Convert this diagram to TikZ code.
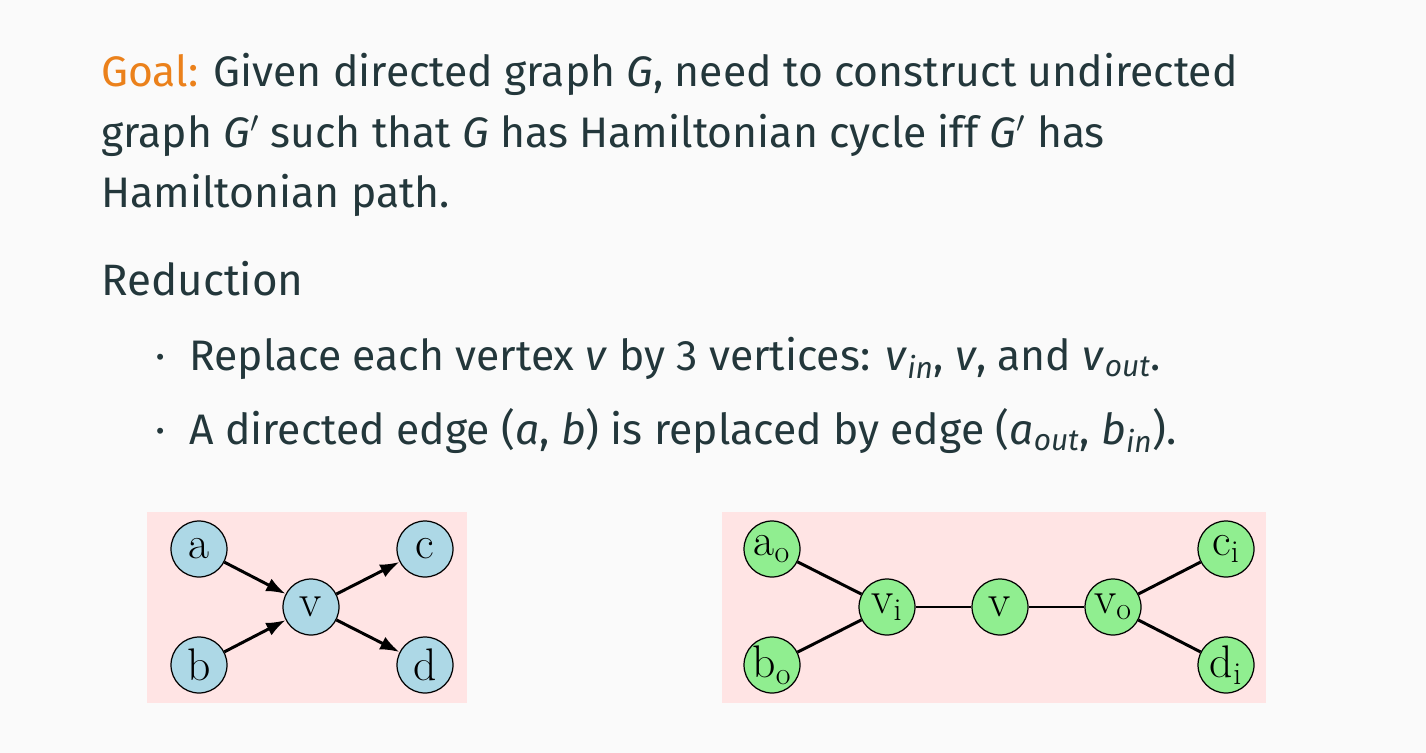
\documentclass[tikz,border=0pt]{standalone}
\usepackage{fontspec}
\newfontfamily\fira{Fira Sans}
\usepackage{tikz}
\usetikzlibrary{arrows.meta}
\definecolor{slate}{HTML}{23373B}
\definecolor{goalorange}{HTML}{EB811B}
\definecolor{pagebg}{HTML}{FAFAFA}
\definecolor{boxpink}{HTML}{FFE4E4}
\definecolor{vblue}{HTML}{ADD8E6}
\definecolor{vgreen}{HTML}{90EE90}
\tikzstyle{vertex}=[draw,circle,minimum size=1.12cm,inner sep=0pt,line width=0.7pt,font=\fontsize{26}{30}\selectfont]
\tikzstyle{txt}=[anchor=base west,inner sep=0pt,text=slate,font=\fira\fontsize{24.3}{30}\selectfont]
\newcommand{\sub}[2]{\textit{#1}\textsubscript{\textit{#2}}}

\begin{document}
\begin{tikzpicture}[x=0.02cm,y=-0.02cm,edge/.style={line width=1.7pt}]
\useasboundingbox (0,0) rectangle (1426,753);
\fill[pagebg] (0,0) rectangle (1426,753);

% statement
\node[txt] (l1) at (101,87) {\textcolor{goalorange}{Goal:} Given directed graph \textit{G}, need to construct undirected};
\node[txt] (l2) at (101,148) {graph \textit{G}$'$ such that \textit{G} has Hamiltonian cycle iff \textit{G}$'$ has};
\node[txt] (l3) at (101,208) {Hamiltonian path.};
\node[txt,font=\fira\fontsize{25}{30}\selectfont] (red) at (101,296) {Reduction};
\node[txt] (d1) at (155,370) {\textperiodcentered};
\node[txt] (b1) at (189,370) {Replace each vertex \textit{v} by 3 vertices: \sub{v}{in}, \textit{v}, and \sub{v}{out}.};
\node[txt] (d2) at (155,444) {\textperiodcentered};
\node[txt] (b2) at (189,444) {A directed edge (\textit{a}, \textit{b}) is replaced by edge (\sub{a}{out}, \sub{b}{in}).};

% directed graph G
\fill[boxpink] (147,512) rectangle (467,703);
\node[vertex,fill=vblue] (a) at (199,549) {a};
\node[vertex,fill=vblue] (b) at (199,665) {b};
\node[vertex,fill=vblue] (v) at (311,607) {v};
\node[vertex,fill=vblue] (c) at (425,549) {c};
\node[vertex,fill=vblue] (d) at (425,665) {d};
\draw[edge,-{Latex[length=11pt,width=8pt]}] (a) -- (v);
\draw[edge,-{Latex[length=11pt,width=8pt]}] (b) -- (v);
\draw[edge,-{Latex[length=11pt,width=8pt]}] (v) -- (c);
\draw[edge,-{Latex[length=11pt,width=8pt]}] (v) -- (d);

% undirected graph G'
\fill[boxpink] (722,512) rectangle (1266,703);
\node[vertex,fill=vgreen] (ao) at (772,549) {$\mathrm{a_o}$};
\node[vertex,fill=vgreen] (bo) at (772,665) {$\mathrm{b_o}$};
\node[vertex,fill=vgreen] (vi) at (887,607) {$\mathrm{v_i}$};
\node[vertex,fill=vgreen] (vm) at (1000,607) {v};
\node[vertex,fill=vgreen] (vo) at (1113,607) {$\mathrm{v_o}$};
\node[vertex,fill=vgreen] (ci) at (1226,549) {$\mathrm{c_i}$};
\node[vertex,fill=vgreen] (di) at (1226,665) {$\mathrm{d_i}$};
\draw[edge] (ao) -- (vi);
\draw[edge] (bo) -- (vi);
\draw[edge] (vi) -- (vm);
\draw[edge] (vm) -- (vo);
\draw[edge] (vo) -- (ci);
\draw[edge] (vo) -- (di);
\end{tikzpicture}
\end{document}
